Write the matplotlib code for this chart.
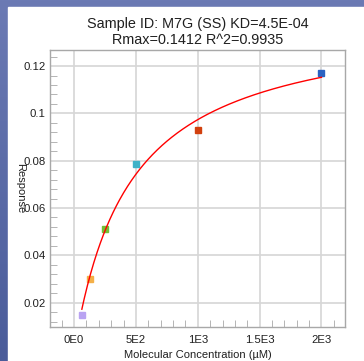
import numpy as np
import matplotlib.pyplot as plt
from matplotlib.patches import Rectangle
from matplotlib.colors import LinearSegmentedColormap
from matplotlib.ticker import MultipleLocator, FixedLocator

# measured points (concentration in uM, response)
conc = [62.5, 125, 250, 500, 1000, 2000]
resp = [0.0148, 0.0299, 0.0513, 0.0786, 0.0929, 0.1169]
pt_colors = ['#b9a3f2', '#f4b048', '#72c034', '#3fb2c8', '#d2400e', '#2a62c2']

# fit parameters from the title
KD = 4.5e-04          # M
RMAX = 0.1412
xticks = [0, 500, 1000, 1500, 2000]
xtick_labels = ['0E0', '5E2', '1E3', '1.5E3', '2E3']
yticks = [0.02, 0.04, 0.06, 0.08, 0.1, 0.12]
ytick_labels = ['0.02', '0.04', '0.06', '0.08', '0.1', '0.12']

dpi = 100
fig = plt.figure(dpi=dpi, figsize=(364 / dpi, 361 / dpi))
plt.rcParams['font.family'] = ['Liberation Sans', 'DejaVu Sans']

# blue gradient frame behind a white panel
bg = fig.add_axes([0, 0, 1, 1], zorder=-10)
grad = np.linspace(0, 1, 256).reshape(-1, 1)
cmap = LinearSegmentedColormap.from_list('frame', ['#6b7ab4', '#4a5c9a'])
bg.imshow(grad, aspect='auto', cmap=cmap, extent=[0, 1, 0, 1], origin='upper')
bg.add_patch(Rectangle((8 / 364, 0), 1, 1 - 7 / 361, color='white'))
bg.set_xlim(0, 1)
bg.set_ylim(0, 1)
bg.axis('off')

ax = fig.add_axes([50 / 364, 1 - 327 / 361, 295 / 364, 277 / 361])
ax.set_facecolor('white')

xs = np.linspace(conc[0], conc[-1], 300)
fit = RMAX * xs / (KD * 1e6 + xs)
for c, r, col in zip(conc, resp, pt_colors):
    ax.plot(c, r, marker='s', markersize=4.5, color=col, linestyle='none', zorder=3)
ax.plot(xs, fit, color='red', linewidth=1.0, zorder=4)

ax.set_xlim(-195, 2190)
ax.set_ylim(0.0097, 0.1268)

ax.xaxis.set_major_locator(FixedLocator(xticks))
ax.set_xticklabels(xtick_labels)
ax.xaxis.set_minor_locator(MultipleLocator(100))
ax.yaxis.set_major_locator(FixedLocator(yticks))
ax.set_yticklabels(ytick_labels)
ax.yaxis.set_minor_locator(MultipleLocator(0.004))

ax.grid(True, which='major', color='#d6d6d6', linewidth=1.2)
ax.set_axisbelow(True)
for s in ax.spines.values():
    s.set_color('#a8a8a8')
    s.set_linewidth(1.0)

ax.tick_params(axis='both', which='both', direction='in', color='#a8a8a8',
               labelsize=8.2, labelcolor='#202020')
ax.tick_params(axis='both', which='major', length=0)
ax.tick_params(axis='both', which='minor', length=5)
ax.tick_params(axis='y', which='major', pad=3)
ax.tick_params(axis='x', which='major', pad=6)

ax.set_title('Sample ID: M7G (SS) KD=4.5E-04\nRmax=0.1412 R^2=0.9935',
             fontsize=10.4, color='#202020', pad=4, linespacing=1.25)
ax.set_xlabel('Molecular Concentration (\u00b5M)', fontsize=8, color='#202020', labelpad=3)
ax.set_ylabel('Response', fontsize=8, color='#202020', rotation=270, labelpad=0)
ax.yaxis.set_label_coords(-0.118, 0.5)

fig.savefig('out.png', dpi=dpi)
